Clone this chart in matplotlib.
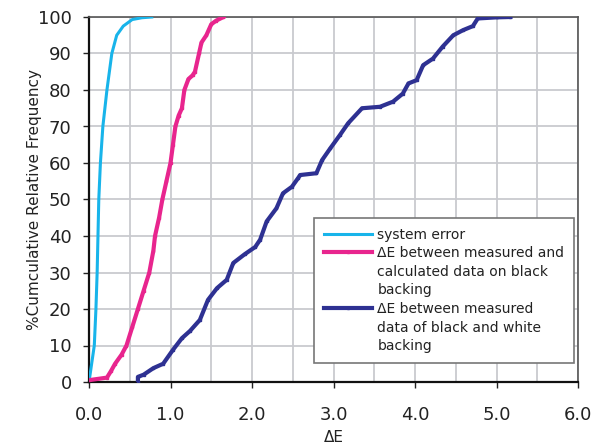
import matplotlib
matplotlib.use("Agg")
import matplotlib.pyplot as plt
from matplotlib.lines import Line2D
from matplotlib.ticker import MultipleLocator

# Data
sys_x = [0.0, 0.065, 0.085, 0.10, 0.11, 0.12, 0.14, 0.17, 0.22, 0.28, 0.34, 0.42, 0.53, 0.65, 0.77]
sys_y = [0, 10, 20, 30, 40, 50, 60, 70, 80, 90, 95, 97.5, 99.3, 99.8, 100]

blk_x = [0.0, 0.22, 0.27, 0.32, 0.40, 0.46, 0.53, 0.60, 0.67, 0.74, 0.79, 0.81, 0.86, 0.90,
         0.95, 1.0, 1.03, 1.06, 1.10, 1.14, 1.17, 1.22, 1.27, 1.30, 1.35, 1.38, 1.44, 1.50, 1.56, 1.65]
blk_y = [0.5, 1.2, 3, 5, 7.5, 10, 15, 20, 25, 30, 36, 40, 45, 50,
         55, 60, 65, 70, 73, 75, 80, 83, 84, 85, 90, 93, 95, 98, 99, 100]

bw_x = [0.60, 0.60, 0.67, 0.79, 0.91, 1.03, 1.14, 1.24, 1.36, 1.46, 1.57, 1.69, 1.77, 1.91, 2.04,
        2.10, 2.18, 2.30, 2.38, 2.49, 2.57, 2.59, 2.79, 2.86, 2.96, 3.08, 3.18, 3.35, 3.57, 3.73,
        3.85, 3.92, 4.02, 4.10, 4.22, 4.34, 4.47, 4.59, 4.71, 4.77, 5.00, 5.17]
bw_y = [0, 1.4, 2, 3.8, 5, 8.8, 12, 14, 17, 22.5, 25.7, 28, 32.6, 35, 37,
        39, 44, 47.6, 51.7, 53.5, 56, 56.7, 57.2, 60.8, 64, 67.7, 70.9, 75, 75.4, 76.8,
        79, 81.8, 82.7, 86.8, 88.6, 91.9, 95, 96.4, 97.5, 99.6, 99.9, 100]

x_ticks = [0.0, 1.0, 2.0, 3.0, 4.0, 5.0, 6.0]
x_labels = ["0.0", "1.0", "2.0", "3.0", "4.0", "5.0", "6.0"]
y_ticks = [0, 10, 20, 30, 40, 50, 60, 70, 80, 90, 100]

labels = [["system error"],
          ["ΔE between measured and", "calculated data on black", "backing"],
          ["ΔE between measured", "data of black and white", "backing"]]

fig = plt.figure(figsize=(5.98, 4.44), dpi=100)
ax = fig.add_axes([89/598, 1-382/444, (578-89)/598, (382-17)/444])

c_sys = "#18b4ea"
c_blk = "#e8258e"
c_bw = "#2e3192"

h1, = ax.plot(sys_x, sys_y, color=c_sys, lw=2.2, zorder=3)
h2, = ax.plot(blk_x, blk_y, color=c_blk, lw=3.0, marker="s", ms=2, zorder=3)
h3, = ax.plot(bw_x, bw_y, color=c_bw, lw=3.0, marker="s", ms=2, zorder=3)

ax.set_xlim(0, 6)
ax.set_ylim(0, 100)
ax.set_xticks(x_ticks)
ax.set_xticklabels(x_labels)
ax.set_yticks(y_ticks)
ax.xaxis.set_minor_locator(MultipleLocator(0.5))
ax.grid(True, which="both", axis="x", color="#c9cacf", lw=1.3)
ax.grid(True, which="major", axis="y", color="#c9cacf", lw=1.3)
ax.set_axisbelow(True)
ax.tick_params(axis="both", which="major", direction="out", length=4.5, width=1,
               labelsize=13, colors="#222222")
ax.tick_params(axis="y", pad=8)
ax.tick_params(axis="x", pad=13)
ax.tick_params(axis="x", which="minor", length=0)

for s in ["left", "bottom"]:
    ax.spines[s].set_color("#111111")
    ax.spines[s].set_linewidth(1.6)
for s in ["top", "right"]:
    ax.spines[s].set_color("#555555")
    ax.spines[s].set_linewidth(1.2)

ax.set_xlabel("ΔE", fontsize=11, color="#222222", labelpad=4)
ax.set_ylabel("%Cumculative Relative Frequency", fontsize=11, color="#222222", labelpad=-3)

# Legend: handle aligned with the first line of each multi-line label
blank = Line2D([], [], color="none")
leg_handles, leg_labels = [], []
for h, lab in zip([h1, h2, h3], labels):
    for i, line in enumerate(lab):
        leg_handles.append(h if i == 0 else blank)
        leg_labels.append(line)

leg = ax.legend(leg_handles, leg_labels, loc="upper left",
                bbox_to_anchor=(314/598, 1-218/444), bbox_transform=fig.transFigure,
                borderaxespad=0, fontsize=10, frameon=True,
                fancybox=False, edgecolor="#777777", framealpha=1,
                handlelength=3.5, handletextpad=0.36, borderpad=0.7,
                labelspacing=0.33, markerscale=1)
leg.get_frame().set_linewidth(1.2)
for t in leg.get_texts():
    t.set_color("#222222")

fig.savefig("out.png", dpi=100)
